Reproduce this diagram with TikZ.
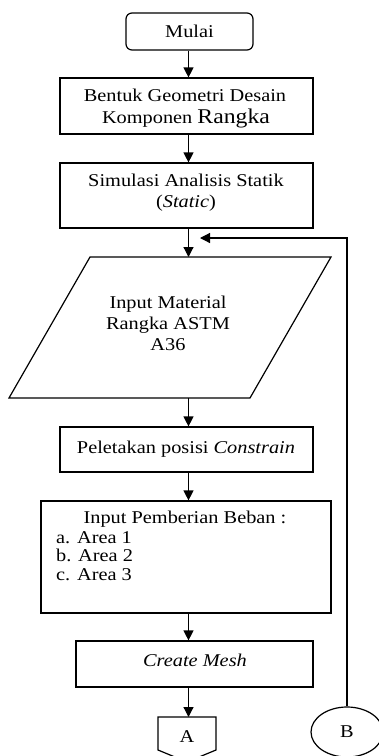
\documentclass[tikz,border=0pt]{standalone}
\usepackage{fontspec}
\setmainfont[FakeStretch=1.13]{Liberation Serif}
\usetikzlibrary{arrows.meta,shapes.geometric}
\begin{document}
\begin{tikzpicture}[x=1pt,y=-1pt,
  box/.style={draw, line width=1.2pt, inner sep=0pt},
  txt/.style={anchor=base, inner sep=0pt, font=\fontsize{18}{21}\selectfont},
  ltxt/.style={anchor=base west, inner sep=0pt, font=\fontsize{18}{21}\selectfont},
  flow/.style={line width=1.2pt, -{Triangle[width=10pt,length=10pt]}},
  outline/.style={line width=1.2pt, line join=miter}]
\useasboundingbox (0,0) rectangle (379,756);
\coordinate (ax) at (188.5,0);
% start
\node[box, rounded corners=6pt, minimum width=127pt, minimum height=37pt,
      font=\fontsize{18}{21}\selectfont] (start) at (189.5,31.5) {Mulai};
% box 1
\node[box, minimum width=253pt, minimum height=56pt] (b1) at (186.5,106) {};
\node[txt] (t1a) at (185,101) {Bentuk Geometri Desain};
\node[txt] (t1b) at (186,123) {Komponen {\fontsize{21}{21}\selectfont Rangka}};
% box 2
\node[box, minimum width=253pt, minimum height=65pt] (b2) at (186.5,195.5) {};
\node[txt] (t2a) at (186,186) {Simulasi Analisis Statik};
\node[txt] (t2b) at (186,207) {(\textit{Static})};
% parallelogram
\draw[outline] (90,257) coordinate (pTL) -- (331,257) coordinate (pTR)
  -- (250,398) coordinate (pBR) -- (9,398) coordinate (pBL) -- cycle;
\node[txt] (t3a) at (168,308) {Input Material};
\node[txt] (t3b) at (168,329) {Rangka ASTM};
\node[txt] (t3c) at (168,350) {A36};
% box 4
\node[box, minimum width=253pt, minimum height=45pt] (b4) at (186.5,449.5) {};
\node[txt] (t4) at (186,453) {Peletakan posisi \textit{Constrain}};
% box 5
\node[box, minimum width=290pt, minimum height=112pt] (b5) at (186,557) {};
\node[txt] (t5) at (185,523) {Input Pemberian Beban :};
\node[ltxt] (t5a) at (56,543) {a. Area 1};
\node[ltxt] (t5b) at (56,561.5) {b. Area 2};
\node[ltxt] (t5c) at (56,580) {c. Area 3};
% box 6
\node[box, minimum width=237pt, minimum height=46pt] (b6) at (194.5,664) {};
\node[txt] (t6) at (195,666) {\textit{Create Mesh}};
% off-page connector A
\draw[outline] (158,717) coordinate (aTL) -- (216,717) -- (216,750) -- (187,762) -- (158,750) -- cycle;
\node[txt] (A) at (187,742) {A};
% connector B
\node[draw, ellipse, line width=1.2pt, inner sep=0pt, minimum width=72pt, minimum height=50pt,
      font=\fontsize{18}{21}\selectfont] (B) at (347,732) {B};
\coordinate (fbtip) at (200,238);
% arrows
\draw[flow] (ax |- start.south) -- (ax |- b1.north);
\draw[flow] (ax |- b1.south) -- (ax |- b2.north);
\draw[flow] (ax |- b2.south) -- (ax |- pTL);
\draw[flow] (ax |- pBL) -- (ax |- b4.north);
\draw[flow] (ax |- b4.south) -- (ax |- b5.north);
\draw[flow] (ax |- b5.south) -- (ax |- b6.north);
\draw[flow] (ax |- b6.south) -- (ax |- aTL);
\draw[flow] (B.north) -- (B.north |- fbtip) -- (fbtip);
\end{tikzpicture}
\end{document}
